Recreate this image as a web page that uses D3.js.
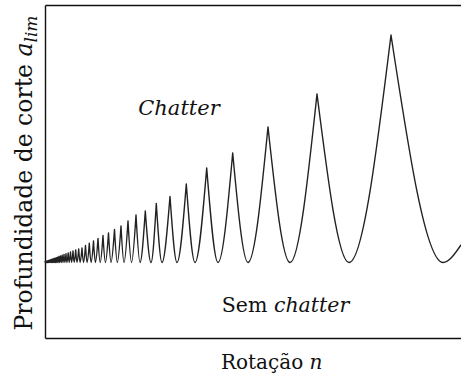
<!DOCTYPE html>
<html><head><meta charset="utf-8">
<script src="https://cdn.jsdelivr.net/npm/d3@7"></script>
<style>body{margin:0;background:#fff}svg{display:block}
.serif{font-family:"DejaVu Serif",serif}</style>
</head><body>
<script>
// Stability lobe diagram (arbitrary units): rotation n (rpm) vs limiting depth a_lim (mm)
const peakRpm = [15,40,65,95,125,155,190,225,265,305,350,400,450,505,565,630,700,775,860,950,1050,1160,1275,1400,1535,1685,1850,2025,2215,2425,2650,2900,3175,3475,3800,4150,4550,5015,5565,6250,7065,8085,9385,11150,13600,17300];
const peakDepth = [0.765,0.766,0.767,0.769,0.771,0.773,0.775,0.778,0.781,0.784,0.787,0.791,0.795,0.799,0.804,0.809,0.815,0.821,0.828,0.835,0.843,0.851,0.86,0.87,0.88,0.89,0.90,0.925,0.947,0.97,0.995,1.025,1.05,1.085,1.12,1.17,1.23,1.27,1.345,1.415,1.54,1.70,1.85,2.11,2.44,3.03];
const minRpm = [25,50,80,110,140,170,205,240,280,325,370,420,475,530,595,660,730,810,900,995,1095,1210,1330,1460,1600,1755,1925,2105,2305,2520,2760,3020,3300,3615,3950,4325,4750,5300,5850,6600,7500,8650,10150,12250,15200,19900];
const minDepth = 0.755;
const startPoint = [0, 0.76];
const endPoint = [20800, 0.93];
const xDomain = [0, 20800];
const yDomain = [0, 3.33];

const W = 461, H = 374;
const svg = d3.select("body").append("svg").attr("width", W).attr("height", H);
const x = d3.scaleLinear().domain(xDomain).range([45, 461]);
const y = d3.scaleLinear().domain(yDomain).range([338, 5]);

// frame via axes without ticks
const frame = g => g.call(s => s.selectAll(".tick").remove())
  .call(s => s.select(".domain").attr("stroke", "#111").attr("stroke-width", 1.4));
svg.append("g").attr("transform", `translate(45,0)`)
  .call(d3.axisLeft(y).tickValues([]).tickSizeOuter(0)).call(frame);
svg.append("g").attr("transform", `translate(0,${y(0)})`)
  .call(d3.axisBottom(x).tickValues([]).tickSizeOuter(0)).call(frame);
svg.append("g").attr("transform", `translate(0,${y(yDomain[1])})`)
  .call(d3.axisTop(x).tickValues([]).tickSizeOuter(0)).call(frame);

// lobes: each one is drawn separately so the cusps stay sharp
const segs = [];
segs.push([startPoint, [peakRpm[0], peakDepth[0]]]);
for (let i = 0; i < peakRpm.length; i++) {
  const seg = [[peakRpm[i], peakDepth[i]], [minRpm[i], minDepth]];
  if (i + 1 < peakRpm.length) seg.push([peakRpm[i + 1], peakDepth[i + 1]]);
  else seg.push(endPoint);
  segs.push(seg);
}
const line = d3.line().x(d => x(d[0])).y(d => y(d[1])).curve(d3.curveMonotoneX);
svg.append("path")
  .attr("d", segs.map(s => line(s)).join(""))
  .attr("fill", "none").attr("stroke", "#222").attr("stroke-width", 1.4)
  .attr("stroke-linejoin", "round").attr("stroke-linecap", "round");

svg.append("text").attr("class", "serif").attr("x", 179).attr("y", 115).attr("text-anchor", "middle")
  .attr("font-style", "italic").attr("font-size", 21).attr("fill", "#111")
  .text("Chatter");
const sem = svg.append("text").attr("class", "serif").attr("x", 285.5).attr("y", 311.5).attr("text-anchor", "middle")
  .attr("font-size", 20.5).attr("fill", "#111");
sem.append("tspan").text("Sem ");
sem.append("tspan").attr("font-style", "italic").text("chatter");

const xl = svg.append("text").attr("class", "serif").attr("x", 271.7).attr("y", 369).attr("text-anchor", "middle")
  .attr("font-size", 20).attr("fill", "#111");
xl.append("tspan").text("Rotação ");
xl.append("tspan").attr("font-style", "italic").text("n");

const yl = svg.append("text").attr("class", "serif").attr("transform", "translate(32,173) rotate(-90)").attr("text-anchor", "middle")
  .attr("font-size", 23.5).attr("fill", "#111");
yl.append("tspan").text("Profundidade de corte ");
yl.append("tspan").attr("font-style", "italic").text("a");
yl.append("tspan").attr("font-style", "italic").attr("font-size", 17).attr("dy", 5).text("lim");
</script>
</body></html>
